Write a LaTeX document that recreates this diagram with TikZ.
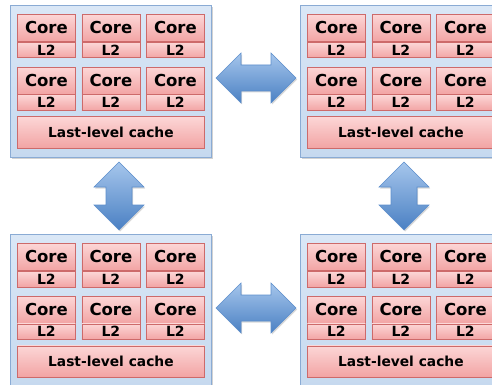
\documentclass[tikz,border=0pt]{standalone}
\usepackage{fontspec}
\setmainfont{DejaVu Sans}
\usetikzlibrary{shadows}
\definecolor{coretop}{HTML}{FCD6D6}
\definecolor{corebot}{HTML}{F2A4A4}
\definecolor{coreline}{HTML}{CD6A6A}
\definecolor{chiptop}{HTML}{DAE7F6}
\definecolor{chipbot}{HTML}{C6D9EF}
\definecolor{chipline}{HTML}{8AABD4}
\definecolor{arrtop}{HTML}{A6C6EC}
\definecolor{arrbot}{HTML}{4A80C3}
\definecolor{arrline}{HTML}{5C8ECC}
\tikzset{
  chipbox/.style={draw=chipline, line width=1pt, top color=chiptop, bottom color=chipbot,
    anchor=north west, inner sep=0pt, minimum width=201pt, minimum height=152pt,
    drop shadow={shadow xshift=1pt, shadow yshift=-1.5pt, opacity=0.35}},
  redbox/.style={draw=coreline, line width=0.8pt, top color=coretop, bottom color=corebot,
    anchor=north west, inner sep=0pt, text=black},
  corebox/.style={redbox, minimum width=58pt, minimum height=27pt, font=\fontsize{16.5}{16.5}\selectfont\bfseries},
  ltwobox/.style={redbox, minimum width=58pt, minimum height=15.5pt, font=\fontsize{14}{14}\selectfont\bfseries},
  llcbox/.style={redbox, minimum width=187pt, minimum height=31pt, font=\fontsize{13.8}{13.8}\selectfont\bfseries},
  blockarrow/.style={draw=arrline, line width=0.6pt, top color=arrtop, bottom color=arrbot,
    drop shadow={shadow xshift=1pt, shadow yshift=-1.5pt, opacity=0.3}}
}
\newcommand\drawchip[3]{%
  \node[chipbox] (#1) at (#2,#3) {};
  \foreach \c [count=\i] in {7,71.5,136}{
    \node[corebox] (#1ca\i) at (#2+\c,#3+9) {Core};
    \node[ltwobox] (#1la\i) at (#2+\c,#3+37) {L2};
    \node[corebox] (#1cb\i) at (#2+\c,#3+62) {Core};
    \node[ltwobox] (#1lb\i) at (#2+\c,#3+89.5) {L2};
  }
  \node[llcbox] (#1llc) at (#2+7,#3+111.5) {Last-level cache};
}
\newcommand\harrow[1]{%
  \draw[blockarrow] (216,#1) -- (241,#1-25) -- (241,#1-13) -- (271,#1-13) -- (271,#1-25)
    -- (296,#1) -- (271,#1+25) -- (271,#1+13) -- (241,#1+13) -- (241,#1+25) -- cycle;}
\newcommand\varrow[1]{%
  \draw[blockarrow] (#1,162) -- (#1+25,187) -- (#1+13,187) -- (#1+13,205) -- (#1+25,205)
    -- (#1,230) -- (#1-25,205) -- (#1-13,205) -- (#1-13,187) -- (#1-25,187) -- cycle;}
\begin{document}
\begin{tikzpicture}[x=1pt,y=-1pt]
\useasboundingbox (0,0) rectangle (492,385);
\clip (0,0) rectangle (492,385);
\fill[white] (0,0) rectangle (492,385);
\drawchip{tl}{10}{5}
\drawchip{tr}{300}{5}
\drawchip{bl}{10}{234}
\drawchip{br}{300}{234}
\harrow{78}
\harrow{308}
\varrow{119}
\varrow{404}
\end{tikzpicture}
\end{document}
